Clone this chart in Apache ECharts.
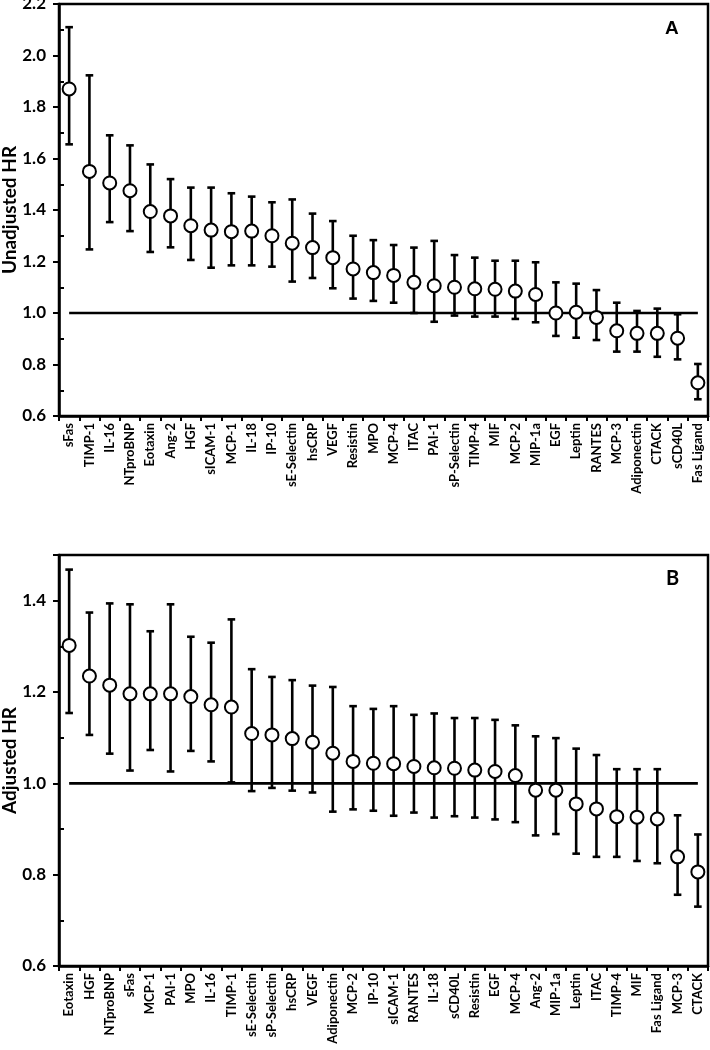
<!DOCTYPE html>
<html>
<head>
<meta charset="utf-8">
<script src="https://cdn.jsdelivr.net/npm/echarts@6/dist/echarts.min.js"></script>
<style>
html,body{margin:0;padding:0;background:#fff;}
#chart{width:710px;height:1050px;}
</style>
</head>
<body>
<div id="chart"></div>
<script>
// Panel A: unadjusted HR
const catsA = ['sFas','TIMP-1','IL-16','NTproBNP','Eotaxin','Ang-2','HGF','sICAM-1','MCP-1','IL-18','IP-10','sE-Selectin','hsCRP','VEGF','Resistin','MPO','MCP-4','ITAC','PAI-1','sP-Selectin','TIMP-4','MIF','MCP-2','MIP-1a','EGF','Leptin','RANTES','MCP-3','Adiponectin','CTACK','sCD40L','Fas Ligand'];
const hrA   = [1.87,1.55,1.505,1.475,1.394,1.377,1.339,1.322,1.316,1.318,1.30,1.271,1.254,1.215,1.171,1.157,1.146,1.119,1.106,1.10,1.094,1.092,1.085,1.072,1.0,1.003,0.983,0.931,0.921,0.921,0.902,0.729];
const lowA  = [1.655,1.247,1.353,1.318,1.237,1.255,1.206,1.176,1.185,1.185,1.18,1.122,1.136,1.096,1.056,1.047,1.04,1.0,0.966,0.99,0.986,0.986,0.977,0.964,0.911,0.904,0.895,0.85,0.85,0.83,0.82,0.665];
const highA = [2.11,1.923,1.69,1.651,1.577,1.52,1.487,1.487,1.465,1.452,1.43,1.441,1.386,1.357,1.30,1.283,1.264,1.254,1.28,1.225,1.215,1.203,1.203,1.197,1.119,1.114,1.089,1.04,1.008,1.017,0.995,0.802];

// Panel B: adjusted HR
const catsB = ['Eotaxin','HGF','NTproBNP','sFas','MCP-1','PAI-1','MPO','IL-16','TIMP-1','sE-Selectin','sP-Selectin','hsCRP','VEGF','Adiponectin','MCP-2','IP-10','sICAM-1','RANTES','IL-18','sCD40L','Resistin','EGF','MCP-4','Ang-2','MIP-1a','Leptin','ITAC','TIMP-4','MIF','Fas Ligand','MCP-3','CTACK'];
const hrB   = [1.302,1.235,1.215,1.196,1.196,1.196,1.19,1.172,1.167,1.109,1.106,1.098,1.09,1.066,1.048,1.044,1.043,1.037,1.034,1.033,1.029,1.026,1.017,0.985,0.985,0.955,0.944,0.927,0.926,0.922,0.839,0.806];
const lowB  = [1.154,1.106,1.065,1.028,1.073,1.026,1.071,1.048,1.002,0.983,0.99,0.984,0.98,0.938,0.943,0.94,0.929,0.936,0.925,0.928,0.925,0.921,0.915,0.886,0.889,0.846,0.839,0.839,0.83,0.825,0.756,0.73];
const highB = [1.468,1.374,1.394,1.392,1.333,1.392,1.321,1.308,1.359,1.25,1.233,1.226,1.214,1.211,1.169,1.163,1.169,1.15,1.153,1.143,1.143,1.139,1.127,1.103,1.099,1.076,1.062,1.031,1.031,1.031,0.93,0.888];

// Axis ticks
const yLabelsA = ['0.6','0.8','1.0','1.2','1.4','1.6','1.8','2.0','2.2'];
const yLabelsB = ['0.6','0.8','1.0','1.2','1.4'];
const yMinorA = [0.7,0.9,1.1,1.3,1.5,1.7,1.9,2.1];
const yMinorB = [0.7,0.9,1.1,1.3];
const refValue = 1.0;

const FONT = 'Lato';
const chart = echarts.init(document.getElementById('chart'), null, {renderer:'canvas'});

function errRender(params, api){
  const i = api.value(0);
  const lo = api.coord([i, api.value(1)]);
  const hi = api.coord([i, api.value(2)]);
  const w = 3.8;
  const st = {stroke:'#000', lineWidth:2.6};
  return {type:'group', children:[
    {type:'line', shape:{x1:lo[0],y1:lo[1],x2:hi[0],y2:hi[1]}, style:st},
    {type:'line', shape:{x1:lo[0]-w,y1:lo[1],x2:lo[0]+w,y2:lo[1]}, style:st},
    {type:'line', shape:{x1:hi[0]-w,y1:hi[1],x2:hi[0]+w,y2:hi[1]}, style:st}
  ]};
}

function xAxisFor(cats, gi){
  return {type:'category', gridIndex:gi, data:cats, boundaryGap:true,
    axisLine:{lineStyle:{color:'#000', width:2.5}},
    axisTick:{show:true, length:5, lineStyle:{color:'#000', width:2}},
    axisLabel:{rotate:90, margin:7, interval:0, color:'#000', fontFamily:FONT, fontWeight:'bold', fontSize:13},
    splitLine:{show:false}};
}
function yAxisFor(gi, min, max, name, labels){
  return {type:'value', gridIndex:gi, min:min, max:max, interval:0.2,
    name:name, nameLocation:'middle', nameGap:40, nameMoveOverlap:false,
    nameTextStyle:{color:'#000', fontFamily:FONT, fontWeight:'bold', fontSize:19},
    axisLine:{show:true, lineStyle:{color:'#000', width:2.5}},
    axisTick:{show:true, length:6, lineStyle:{color:'#000', width:2}},
    axisLabel:{color:'#000', fontFamily:FONT, fontWeight:'bold', fontSize:17, margin:13,
      formatter:function(v){const s = v.toFixed(1); return labels.indexOf(s) >= 0 ? s : '';}},
    splitLine:{show:false}};
}
function yMinorFor(gi, min, max, vals){
  return {type:'value', gridIndex:gi, min:min, max:max, position:'left', offset:0,
    axisLine:{show:false},
    axisTick:{show:true, inside:true, length:5, customValues:vals, lineStyle:{color:'#000', width:2}},
    axisLabel:{show:false}, splitLine:{show:false}};
}

const option = {
  backgroundColor:'#fff',
  animation:false,
  title:[
    {text:'A', left:660, top:14, textStyle:{fontFamily:'Liberation Sans', fontWeight:'bold', fontSize:19, color:'#000'}},
    {text:'B', left:661, top:564, textStyle:{fontFamily:FONT, fontWeight:'bold', fontSize:20, color:'#000'}}
  ],
  grid:[
    {left:59, top:4, width:649, height:412, show:true, borderColor:'#000', borderWidth:2.5, backgroundColor:'transparent', containLabel:false, outerBoundsMode:'none'},
    {left:59, top:555, width:649, height:411, show:true, borderColor:'#000', borderWidth:2.5, backgroundColor:'transparent', containLabel:false, outerBoundsMode:'none'}
  ],
  xAxis:[xAxisFor(catsA,0), xAxisFor(catsB,1)],
  yAxis:[
    yAxisFor(0, 0.6, 2.2, 'Unadjusted HR', yLabelsA),
    yAxisFor(1, 0.6, 1.5, 'Adjusted HR', yLabelsB),
    yMinorFor(0, 0.6, 2.2, yMinorA),
    yMinorFor(1, 0.6, 1.5, yMinorB)
  ],
  series:[
    {type:'line', xAxisIndex:0, yAxisIndex:0, data:catsA.map(()=>refValue), symbol:'none', lineStyle:{color:'#000', width:2.6}, z:1, silent:true},
    {type:'line', xAxisIndex:1, yAxisIndex:1, data:catsB.map(()=>refValue), symbol:'none', lineStyle:{color:'#000', width:2.6}, z:1, silent:true},
    {type:'custom', xAxisIndex:0, yAxisIndex:0, renderItem:errRender, data:catsA.map((c,i)=>[i, lowA[i], highA[i]]), encode:{x:0, y:[1,2]}, z:2},
    {type:'custom', xAxisIndex:1, yAxisIndex:1, renderItem:errRender, data:catsB.map((c,i)=>[i, lowB[i], highB[i]]), encode:{x:0, y:[1,2]}, z:2},
    {type:'scatter', xAxisIndex:0, yAxisIndex:0, data:hrA, symbol:'circle', symbolSize:13, itemStyle:{color:'#fff', borderColor:'#000', borderWidth:2, opacity:1}, z:3},
    {type:'scatter', xAxisIndex:1, yAxisIndex:1, data:hrB, symbol:'circle', symbolSize:13, itemStyle:{color:'#fff', borderColor:'#000', borderWidth:2, opacity:1}, z:3}
  ]
};
chart.setOption(option);
</script>
</body>
</html>
